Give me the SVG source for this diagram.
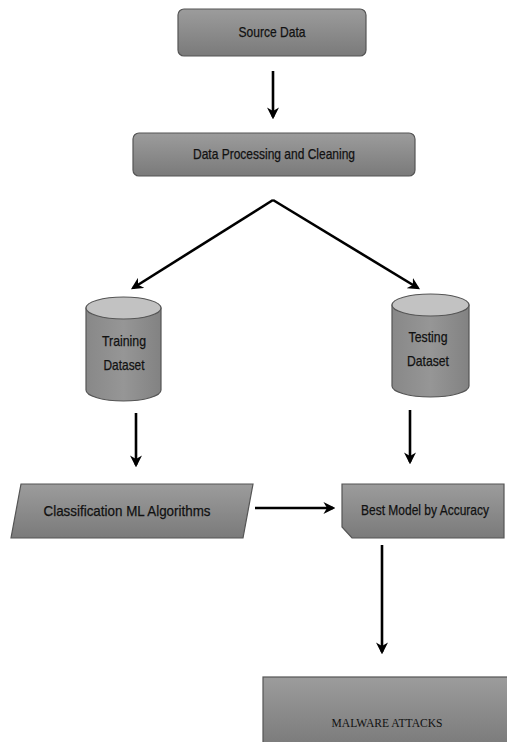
<svg xmlns="http://www.w3.org/2000/svg" width="507" height="742" viewBox="0 0 507 742">
  <defs>
    <linearGradient id="boxFill" x1="0" y1="0" x2="0" y2="1">
      <stop offset="0" stop-color="#9c9c9c"/>
      <stop offset="1" stop-color="#7a7a7a"/>
    </linearGradient>
    <linearGradient id="bodyFill" x1="0" y1="0" x2="1" y2="0">
      <stop offset="0" stop-color="#888888"/>
      <stop offset="0.5" stop-color="#969696"/>
      <stop offset="1" stop-color="#828282"/>
    </linearGradient>
    <marker id="head" viewBox="0 0 10 10" refX="8" refY="5" markerWidth="4.6" markerHeight="4.6" orient="auto" markerUnits="strokeWidth">
      <path d="M0,0 L10,5 L0,10 L3,5 z" fill="#000"/>
    </marker>
    <style>
      .box { fill: url(#boxFill); stroke: #555; stroke-width: 1.2; }
      .top { fill: #c2c2c2; stroke: #555; stroke-width: 1.2; }
      .body { fill: url(#bodyFill); stroke: #555; stroke-width: 1.2; }
      .lbl { font-family: "Liberation Sans Narrow", "Liberation Sans", Arial, sans-serif; font-size: 15px; fill: #111; stroke: #111; stroke-width: 0.25; text-anchor: middle; }
      .serif { font-family: "Liberation Serif", "Times New Roman", serif; font-size: 13.5px; fill: #111; text-anchor: middle; }
      .arrow { stroke: #000; stroke-width: 2.6; fill: none; marker-end: url(#head); }
    </style>
  </defs>

  <g id="source-data">
    <rect class="box" x="178" y="9" width="188" height="47" rx="6"/>
    <text class="lbl" x="272" y="37" textLength="67" lengthAdjust="spacingAndGlyphs">Source Data</text>
  </g>

  <g id="data-processing">
    <rect class="box" x="133" y="133" width="282" height="43" rx="6"/>
    <text class="lbl" x="274" y="159" textLength="162" lengthAdjust="spacingAndGlyphs">Data Processing and Cleaning</text>
  </g>

  <g id="training-dataset">
    <path class="body" d="M86,308 L86,390 A37.5,11 0 0 0 161,390 L161,308 Z"/>
    <ellipse class="top" cx="123.5" cy="308" rx="37.5" ry="11"/>
    <text class="lbl" x="124" y="346" textLength="44" lengthAdjust="spacingAndGlyphs">Training</text>
    <text class="lbl" x="124" y="370" textLength="41" lengthAdjust="spacingAndGlyphs">Dataset</text>
  </g>

  <g id="testing-dataset">
    <path class="body" d="M392,305 L392,386 A38.5,11 0 0 0 469,386 L469,305 Z"/>
    <ellipse class="top" cx="430.5" cy="305" rx="38.5" ry="11"/>
    <text class="lbl" x="428" y="342" textLength="39" lengthAdjust="spacingAndGlyphs">Testing</text>
    <text class="lbl" x="428" y="366" textLength="42" lengthAdjust="spacingAndGlyphs">Dataset</text>
  </g>

  <g id="classification">
    <path class="box" d="M21,484 L253,484 L243,538 L11,538 Z"/>
    <text class="lbl" x="127" y="516" textLength="167" lengthAdjust="spacingAndGlyphs">Classification ML Algorithms</text>
  </g>

  <g id="best-model">
    <path class="box" d="M342,484 L504,484 L504,538 L352,538 L342,527 Z"/>
    <text class="lbl" x="425" y="515" textLength="128" lengthAdjust="spacingAndGlyphs">Best Model by Accuracy</text>
  </g>

  <g id="malware-attacks">
    <rect class="box" x="263" y="677" width="250" height="70"/>
    <text class="serif" x="387" y="727" textLength="111" lengthAdjust="spacingAndGlyphs">MALWARE ATTACKS</text>
  </g>

  <g id="connectors">
    <line class="arrow" x1="273" y1="71" x2="273" y2="117"/>
    <line class="arrow" x1="273" y1="200" x2="133" y2="288"/>
    <line class="arrow" x1="273" y1="200" x2="418" y2="288"/>
    <line class="arrow" x1="136" y1="413" x2="136" y2="465"/>
    <line class="arrow" x1="410" y1="410" x2="410" y2="462"/>
    <line class="arrow" x1="255" y1="508" x2="333" y2="508"/>
    <line class="arrow" x1="382" y1="545" x2="382" y2="652"/>
  </g>
</svg>
